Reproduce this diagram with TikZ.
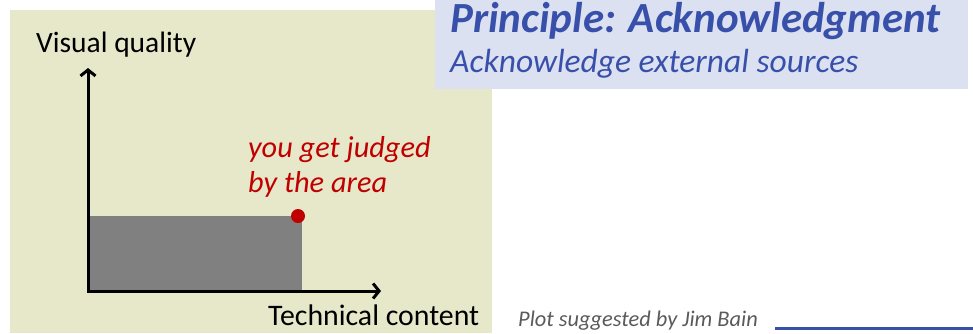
\documentclass[tikz,border=0pt]{standalone}
\usepackage{fontspec}
\setmainfont{Carlito}
\usetikzlibrary{arrows.meta}

\definecolor{panelbg}{RGB}{230,232,201}
\definecolor{headbg}{RGB}{220,225,242}
\definecolor{headblue}{RGB}{56,80,170}
\definecolor{areared}{RGB}{192,0,0}
\definecolor{notegray}{RGB}{90,90,90}
\definecolor{areagray}{RGB}{128,128,128}

\tikzset{
  txt/.style={anchor=base west, inner sep=0pt},
  axis/.style={line width=3pt, line cap=rect, -{Straight Barb[length=6pt,width=15pt]}}
}

\begin{document}
\begin{tikzpicture}[x=1pt,y=1pt]
\useasboundingbox (0,0) rectangle (973,-333);

\fill[panelbg] (10,-10) rectangle (492,-333);
\fill[headbg] (435,0) rectangle (968,-89);

\node[txt] (title) at (450,-32) {\fontsize{43}{45}\selectfont\bfseries\itshape\color{headblue}Principle: Acknowledgment};

\node[txt] (sub) at (450,-72) {\fontsize{33.5}{35}\selectfont\itshape\color{headblue}Acknowledge external sources};

\node[txt] (vq) at (36,-52) {\fontsize{29.5}{31}\selectfont Visual quality};

\node[txt] (tc) at (268,-325) {\fontsize{29.8}{31}\selectfont Technical content};

\node[txt] (judge) at (248,-157) {\fontsize{30.3}{32}\selectfont\itshape\color{areared}you get judged};

\node[txt] (area) at (248,-192) {\fontsize{30.3}{32}\selectfont\itshape\color{areared}by the area};

\node[txt] (credit) at (518,-326) {\fontsize{22.4}{24}\selectfont\itshape\color{notegray}Plot suggested by Jim Bain};

\coordinate (o) at (88,-291);
\coordinate (ytip) at (88,-68);
\coordinate (xtip) at (381,-291);
\coordinate (corner) at (302,-216);

\fill[areagray] (o) rectangle (corner);

\draw[axis] (o) -- (ytip);
\draw[axis] (o) -- (xtip);

\node[circle, fill=areared, inner sep=0pt, minimum size=14pt] (dot) at (298,-216) {};

\coordinate (rulestart) at (775,-328);
\coordinate (ruleend) at (973,-328);
\draw[headblue, line width=3pt] (rulestart) -- (ruleend);

\end{tikzpicture}
\end{document}
